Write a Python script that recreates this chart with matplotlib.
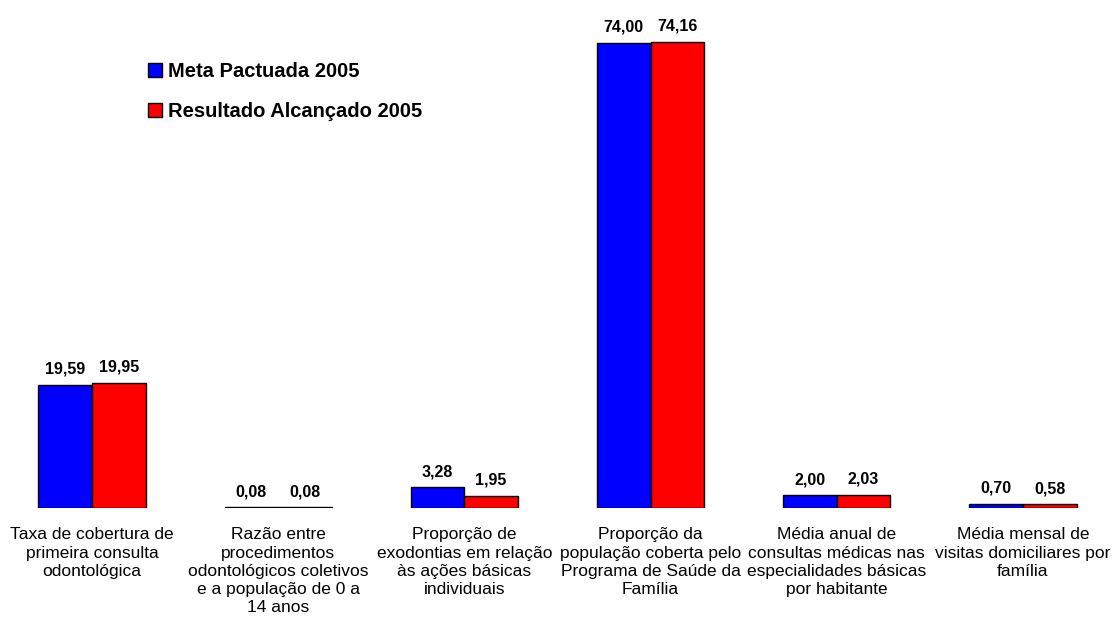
import matplotlib.pyplot as plt
import numpy as np

plt.rcParams['font.family'] = ['Liberation Sans', 'DejaVu Sans']

categorias = [
    "Taxa de cobertura de\nprimeira consulta\nodontológica",
    "Razão entre\nprocedimentos\nodontológicos coletivos\ne a população de 0 a\n14 anos",
    "Proporção de\nexodontias em relação\nàs ações básicas\nindividuais",
    "Proporção da\npopulação coberta pelo\nPrograma de Saúde da\nFamília",
    "Média anual de\nconsultas médicas nas\nespecialidades básicas\npor habitante",
    "Média mensal de\nvisitas domiciliares por\nfamília",
]
meta = [19.59, 0.08, 3.28, 74.00, 2.00, 0.70]
resultado = [19.95, 0.08, 1.95, 74.16, 2.03, 0.58]

fig = plt.figure(figsize=(11.12, 6.26), dpi=100)
ax = fig.add_axes([0, 118/626, 1, 1 - 118/626])

x = np.arange(len(categorias))
w = 0.2875
b1 = ax.bar(x - w/2, meta, w, color='#0000ff', edgecolor='black', linewidth=1,
            label='Meta Pactuada 2005')
b2 = ax.bar(x + w/2, resultado, w, color='#ff0000', edgecolor='black', linewidth=1,
            label='Resultado Alcançado 2005')

for bars, vals in [(b1, meta), (b2, resultado)]:
    for r, v in zip(bars, vals):
        ax.annotate(f"{v:.2f}".replace('.', ','), (r.get_x() + r.get_width()/2, v),
                    xytext=(0, 6), textcoords='offset points', ha='center', va='bottom',
                    fontsize=11.5, fontweight='bold')

for i, c in enumerate(categorias):
    ax.annotate(c, (i, 0), xytext=(0, -14), textcoords='offset points', ha='center',
                va='top', fontsize=12.5, linespacing=1.27, annotation_clip=False)

ax.set_xlim(-0.494, 5.478)
ax.set_ylim(0, 80.8)
ax.axis('off')

ax.legend(loc='upper left', bbox_to_anchor=(0.117, 0.914), frameon=False,
          prop={'weight': 'bold', 'size': 14.5}, handlelength=0.7, handleheight=0.7,
          handletextpad=0.3, labelspacing=1.05)

fig.savefig('out.png', dpi=100)
